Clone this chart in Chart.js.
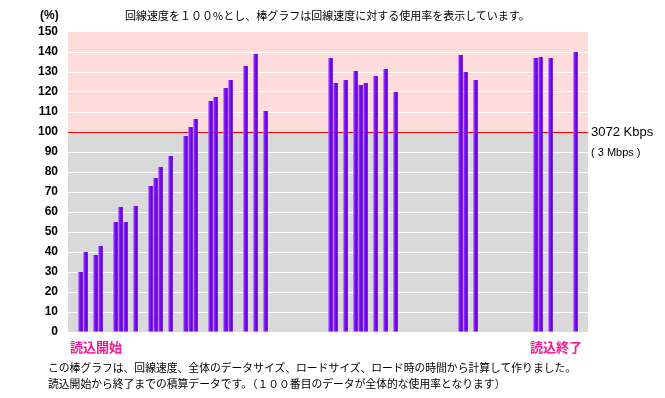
<!DOCTYPE html>
<html>
<head>
<meta charset="utf-8">
<script src="https://cdn.jsdelivr.net/npm/chart.js@4"></script>
<style>
  body { margin: 0; background: #fff; }
  #wrap { position: relative; width: 665px; height: 398px; font-family: "Noto Sans CJK JP", sans-serif; }
  #wrap div { position: absolute; white-space: nowrap; line-height: 1; }
  .unit { left: 40px; top: 9px; font: bold 12px Arial, "Liberation Sans", sans-serif; }
  .head { left: 125px; top: 10px; font-size: 11px; }
  .mark { top: 340px; font-size: 13px; font-weight: bold; color: #ff1493; }
  .note { left: 48px; font-size: 10.8px; }
  .kbps { left: 591px; top: 125px; font: 13px Arial, "Liberation Sans", sans-serif; }
  .mbps { left: 591px; top: 147px; font: 11px Arial, "Liberation Sans", sans-serif; }
</style>
</head>
<body>
<div id="wrap">
  <canvas id="usageChart" width="665" height="398"></canvas>
  <div class="unit">(%)</div>
  <div class="head">回線速度を１００%とし、棒グラフは回線速度に対する使用率を表示しています。</div>
  <div class="mark" style="left:70px">読込開始</div>
  <div class="mark" style="left:530px">読込終了</div>
  <div class="note" style="top:362px">この棒グラフは、回線速度、全体のデータサイズ、ロードサイズ、ロード時の時間から計算して作りました。</div>
  <div class="note" style="top:378px">読込開始から終了までの積算データです。（１００番目のデータが全体的な使用率となります）</div>
  <div class="kbps">3072 Kbps</div>
  <div class="mbps">( 3 Mbps )</div>
</div>
<script>
// 計測番号（1〜100）と使用率(%)
const sampleNo  = [1, 2, 4, 5, 8, 9, 10, 12, 15, 16, 17, 19, 22, 23, 24, 27, 28, 30, 31, 34, 36, 38,
                   51, 52, 54, 56, 57, 58, 60, 62, 64, 77, 78, 80, 92, 93, 95, 100];
const usageRate = [30, 40, 38.5, 43, 55, 62.5, 55, 63, 73, 77, 82.5, 88, 98, 102.5, 106.5, 115.5, 117.5, 122, 126, 133, 139, 110.5,
                   137, 124.5, 126, 130.5, 123.5, 124.5, 128, 131.5, 120, 138.5, 130, 126, 137, 137.5, 137, 140];
const yTicks = [0, 150, 10]; // min, max, step
const lineRate = 100;        // 3072 Kbps

// 100件 + 前後の余白2件ずつ
const labels = [];
const series = [];
for (let i = -1; i <= 102; i++) {
    labels.push(i >= 1 && i <= 100 ? String(i) : '');
    const k = sampleNo.indexOf(i);
    series.push(k >= 0 ? usageRate[k] : null);
}

// 背景（100%より上はピンク、下はグレー）
const bgPlugin = {
    id: 'bands',
    beforeDraw(chart) {
        const { ctx, chartArea: a, scales: { y } } = chart;
        const y100 = y.getPixelForValue(lineRate);
        ctx.save();
        ctx.fillStyle = '#ffdcdc';
        ctx.fillRect(a.left, a.top, a.right - a.left, y100 - a.top);
        ctx.fillStyle = '#d9d9d9';
        ctx.fillRect(a.left, y100, a.right - a.left, a.bottom - y100);
        ctx.restore();
    }
};

// 棒の立体っぽいグラデーション
function barFill(c) {
    const x = c.chart.scales.x;
    if (!x || c.type !== 'data') return '#7300ee';
    const px = x.getPixelForValue(c.dataIndex);
    if (!isFinite(px)) return '#7300ee';
    const g = c.chart.ctx.createLinearGradient(px - 2.3, 0, px + 2.3, 0);
    g.addColorStop(0, '#b27cff');
    g.addColorStop(0.3, '#8a1cff');
    g.addColorStop(0.6, '#7300ee');
    g.addColorStop(1, '#5200c4');
    return g;
}

new Chart(document.getElementById('usageChart'), {
    type: 'bar',
    data: {
        labels: labels,
        datasets: [{
            data: series,
            backgroundColor: barFill,
            borderWidth: 0,
            barPercentage: 0.92,
            categoryPercentage: 1.0
        }]
    },
    options: {
        responsive: false,
        animation: false,
        layout: { padding: { top: 32, right: 77, bottom: 66, left: 0 } },
        plugins: { legend: { display: false }, tooltip: { enabled: false } },
        scales: {
            x: { display: false },
            y: {
                min: yTicks[0], max: yTicks[1],
                afterFit: s => { s.width = 68; },
                border: { display: false },
                grid: {
                    drawTicks: false,
                    lineWidth: 1,
                    color: c => c.tick.value === lineRate ? '#ff0000'
                        : (c.tick.value === yTicks[0] || c.tick.value === yTicks[1]) ? 'rgba(0,0,0,0)' : '#ffffff'
                },
                ticks: {
                    stepSize: yTicks[2],
                    padding: 10,
                    color: '#000',
                    font: { family: 'Arial, "Liberation Sans", sans-serif', size: 12, weight: 'bold' }
                }
            }
        }
    },
    plugins: [bgPlugin]
});
</script>
</body>
</html>
